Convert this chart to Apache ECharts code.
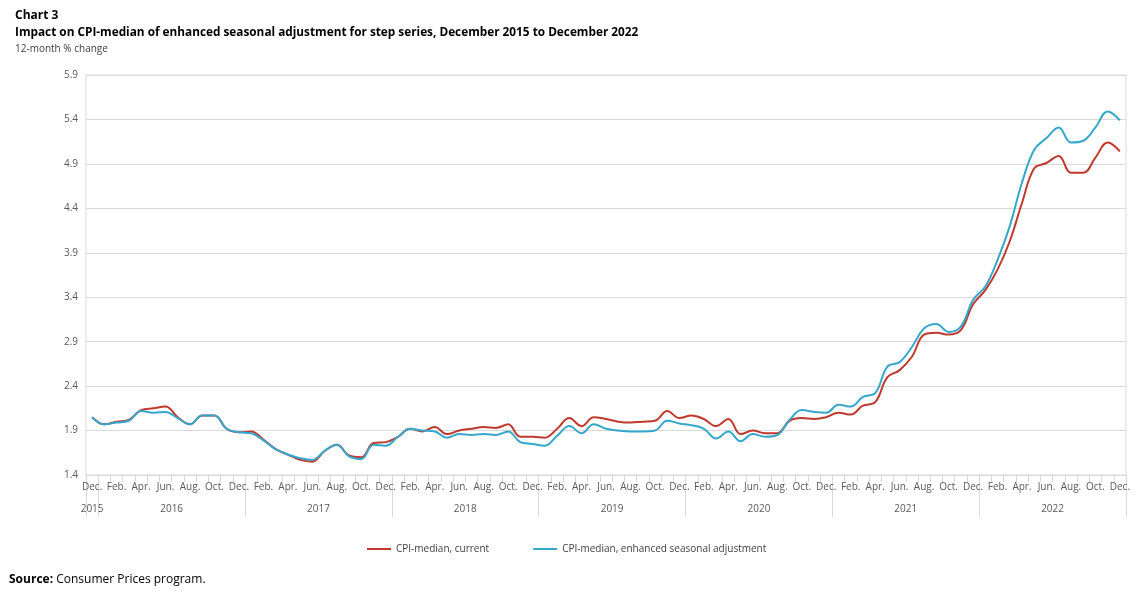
<!DOCTYPE html>
<html>
<head>
<meta charset="utf-8">
<script src="https://cdn.jsdelivr.net/npm/echarts@6/dist/echarts.min.js"></script>
<style>
html,body{margin:0;padding:0;background:#fff;}
#chart{width:1140px;height:595px;}
</style>
</head>
<body>
<div id="chart"></div>
<script>
// Months Dec 2015 .. Dec 2022
const monthLabels = ['Dec.',
  'Jan.','Feb.','Mar.','Apr.','May','Jun.','Jul.','Aug.','Sep.','Oct.','Nov.','Dec.',
  'Jan.','Feb.','Mar.','Apr.','May','Jun.','Jul.','Aug.','Sep.','Oct.','Nov.','Dec.',
  'Jan.','Feb.','Mar.','Apr.','May','Jun.','Jul.','Aug.','Sep.','Oct.','Nov.','Dec.',
  'Jan.','Feb.','Mar.','Apr.','May','Jun.','Jul.','Aug.','Sep.','Oct.','Nov.','Dec.',
  'Jan.','Feb.','Mar.','Apr.','May','Jun.','Jul.','Aug.','Sep.','Oct.','Nov.','Dec.',
  'Jan.','Feb.','Mar.','Apr.','May','Jun.','Jul.','Aug.','Sep.','Oct.','Nov.','Dec.',
  'Jan.','Feb.','Mar.','Apr.','May','Jun.','Jul.','Aug.','Sep.','Oct.','Nov.','Dec.'];
const years = ['2015','2016','2017','2018','2019','2020','2021','2022'];
const monthsPerYear = [1,12,12,12,12,12,12,12];

const cpiCurrent = [2.05,
  1.97,2.00,2.02,2.13,2.15,2.17,2.05,1.97,2.07,2.07,1.92,1.88,
  1.89,1.80,1.69,1.63,1.57,1.55,1.67,1.74,1.62,1.60,1.76,1.77,
  1.83,1.92,1.89,1.94,1.86,1.90,1.92,1.94,1.93,1.97,1.83,1.83,
  1.82,1.92,2.04,1.95,2.05,2.03,2.00,1.99,2.00,2.01,2.12,2.04,
  2.07,2.03,1.95,2.03,1.86,1.90,1.87,1.87,2.01,2.04,2.03,2.05,
  2.10,2.08,2.18,2.22,2.50,2.58,2.73,2.98,3.00,2.98,3.03,3.32,
  3.48,3.71,4.03,4.46,4.85,4.91,4.99,4.80,4.80,4.97,5.14,5.04];
const cpiEnhanced = [2.05,
  1.97,1.99,2.01,2.12,2.10,2.11,2.04,1.97,2.07,2.07,1.92,1.88,
  1.87,1.79,1.69,1.63,1.59,1.57,1.67,1.74,1.61,1.58,1.74,1.73,
  1.83,1.92,1.90,1.89,1.82,1.86,1.85,1.86,1.85,1.89,1.77,1.75,
  1.73,1.84,1.95,1.87,1.97,1.92,1.90,1.89,1.89,1.90,2.01,1.98,
  1.96,1.92,1.81,1.89,1.78,1.86,1.83,1.85,2.02,2.13,2.11,2.10,
  2.19,2.17,2.28,2.32,2.62,2.67,2.84,3.05,3.10,3.01,3.07,3.37,
  3.52,3.82,4.20,4.69,5.06,5.19,5.31,5.14,5.16,5.31,5.49,5.39];

const yMin = 1.4, yMax = 5.9, yStep = 0.5;

// Year (second-level) axis built on half-month steps
const halfSteps = monthLabels.length * 2;
const yearAxisData = new Array(halfSteps + 1).fill('');
const yearBoundaries = [0];
let start = 0;
years.forEach((y, k) => {
  const end = start + monthsPerYear[k];
  yearAxisData[start + end] = y; // centre in half-month units
  yearBoundaries.push(end * 2);
  start = end;
});

const axisGray = '#d9d9d9';
const labelGray = '#595959';
const font = 'Open Sans';

const chart = echarts.init(document.getElementById('chart'), null, {renderer: 'canvas'});
chart.setOption({
  animation: false,
  textStyle: {fontFamily: font},
  title: [
    {text: 'Chart 3', left: 10, top: 5,
     textStyle: {fontFamily: font, fontSize: 12, fontWeight: 'bold', color: '#000'}},
    {text: 'Impact on CPI-median of enhanced seasonal adjustment for step series, December 2015 to December 2022',
     left: 10, top: 22,
     textStyle: {fontFamily: font, fontSize: 11.8, fontWeight: 'bold', color: '#000'}},
    {text: '12-month % change', left: 10, top: 39,
     textStyle: {fontFamily: font, fontSize: 10, fontWeight: 'normal', color: '#404040'}},
    {text: '{b|Source:} Consumer Prices program.', left: 4, top: 569,
     textStyle: {fontFamily: font, fontSize: 12, fontWeight: 'normal', color: '#000',
       rich: {b: {fontFamily: font, fontSize: 12, fontWeight: 'bold', color: '#000'}}}}
  ],
  legend: {
    left: 362, top: 539,
    itemWidth: 24, itemHeight: 2, itemGap: 44,
    icon: 'rect',
    textStyle: {fontFamily: font, fontSize: 10, color: '#404040'},
    data: ['CPI-median, current', 'CPI-median, enhanced seasonal adjustment']
  },
  grid: {left: 86, right: 14, top: 75, bottom: 120, show: true,
         borderColor: axisGray, borderWidth: 1, containLabel: false},
  xAxis: [
    {type: 'category', data: monthLabels, boundaryGap: true, position: 'bottom',
     axisLine: {show: true, lineStyle: {color: axisGray}},
     axisTick: {show: true, interval: 0, alignWithLabel: false, length: 7,
                lineStyle: {color: axisGray}},
     axisLabel: {interval: 1, margin: 7, fontSize: 10, color: labelGray, fontFamily: font},
     splitLine: {show: false}},
    {type: 'category', data: yearAxisData, boundaryGap: false, position: 'bottom',
     axisLine: {show: false},
     axisTick: {show: true, length: 42, interval: (i) => yearBoundaries.includes(i),
                lineStyle: {color: axisGray}},
     axisLabel: {interval: 0, margin: 29, fontSize: 10, color: labelGray, fontFamily: font},
     splitLine: {show: false}}
  ],
  yAxis: {
    type: 'value', min: yMin, max: yMax, interval: yStep,
    axisLine: {show: false}, axisTick: {show: false},
    axisLabel: {fontSize: 10, color: labelGray, margin: 8, fontFamily: font,
                formatter: (v) => v.toFixed(1)},
    splitLine: {show: true, lineStyle: {color: axisGray, width: 1}}
  },
  series: [
    {name: 'CPI-median, current', type: 'line', data: cpiCurrent, xAxisIndex: 0,
     smooth: 0.4, showSymbol: false, symbol: 'none',
     lineStyle: {color: '#C0392F', width: 2}, itemStyle: {color: '#C0392F'}},
    {name: 'CPI-median, enhanced seasonal adjustment', type: 'line', data: cpiEnhanced, xAxisIndex: 0,
     smooth: 0.4, showSymbol: false, symbol: 'none',
     lineStyle: {color: '#35A7CB', width: 2}, itemStyle: {color: '#35A7CB'}}
  ]
});
</script>
</body>
</html>
